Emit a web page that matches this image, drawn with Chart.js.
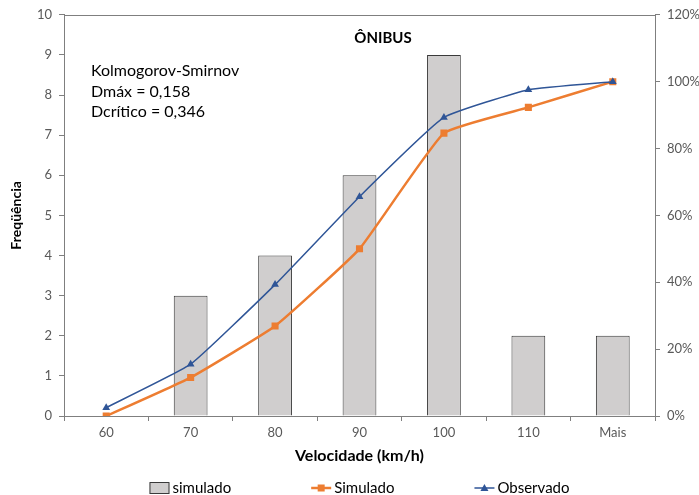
<!DOCTYPE html>
<html>
<head>
<meta charset="utf-8">
<script src="https://cdn.jsdelivr.net/npm/chart.js@4/dist/chart.umd.min.js"></script>
<style>
  html, body { margin: 0; padding: 0; background: #fff; }
  #wrap { width: 699px; height: 495px; }
</style>
</head>
<body>
<div id="wrap"><canvas id="chart" width="699" height="495"></canvas></div>
<script>
// categorias (velocidade km/h)
const categories = ['60', '70', '80', '90', '100', '110', 'Mais'];
// frequencia simulada (barras, eixo esquerdo)
const simuladoFreq = [0, 3, 4, 6, 9, 2, 2];
// acumulados em % (eixo direito)
const simuladoAcum = [0, 11.5, 26.9, 50, 84.6, 92.3, 100];
const observadoAcum = [2.5, 15.5, 39.3, 65.6, 89.3, 97.6, 100];

const leftMax = 10;
const rightMax = 120;
const titleText = 'ÔNIBUS';
const noteLines = ['Kolmogorov-Smirnov', 'Dmáx = 0,158', 'Dcrítico = 0,346'];

const FONT = 'Lato';
const tickColor = '#595959';
const axisColor = '#7f7f7f';
const orange = '#ED7D31';
const blue = '#2F5597';
const barFill = '#D0CECE';
const barBorder = '#3a3a3a';

function drawMarker(ctx, style, x, y, color) {
  ctx.fillStyle = color;
  ctx.beginPath();
  if (style === 'rect') {
    ctx.rect(x - 3.5, y - 3.5, 7, 7);
  } else {
    ctx.moveTo(x, y - 4);
    ctx.lineTo(x + 4, y + 3);
    ctx.lineTo(x - 4, y + 3);
    ctx.closePath();
  }
  ctx.fill();
}

const decor = {
  id: 'decor',
  afterDraw(chart) {
    const ctx = chart.ctx;
    const a = chart.chartArea;
    ctx.save();
    // moldura da area de plotagem
    ctx.strokeStyle = axisColor;
    ctx.lineWidth = 1;
    ctx.strokeRect(Math.round(a.left) + 0.5, Math.round(a.top) + 0.5,
      Math.round(a.right - a.left), Math.round(a.bottom - a.top));

    // titulo
    ctx.fillStyle = '#000';
    ctx.font = 'bold 15px ' + FONT;
    ctx.textAlign = 'center';
    ctx.textBaseline = 'middle';
    ctx.fillText(titleText, 383, 38);

    // texto do teste
    ctx.font = '16px ' + FONT;
    ctx.textAlign = 'left';
    noteLines.forEach((t, i) => ctx.fillText(t, 91, 71 + i * 20.5));

    // legenda
    const items = [
      { label: 'simulado', kind: 'box' },
      { label: 'Simulado', kind: 'line', color: orange, marker: 'rect', width: 2.5 },
      { label: 'Observado', kind: 'line', color: blue, marker: 'tri', width: 1.5 }
    ];
    ctx.font = '15px ' + FONT;
    const symW = 20, gapSym = 3, gapItem = 80;
    const widths = items.map(it => symW + gapSym + ctx.measureText(it.label).width);
    const total = widths.reduce((s, w) => s + w, 0) + gapItem * (items.length - 1);
    let x = (a.left + a.right) / 2 - total / 2;
    const y = 488;
    items.forEach((it, i) => {
      if (it.kind === 'box') {
        ctx.fillStyle = barFill;
        ctx.fillRect(x, y - 5, symW, 11);
        ctx.strokeStyle = barBorder;
        ctx.lineWidth = 1;
        ctx.strokeRect(x + 0.5, y - 5.5, symW - 1, 11);
      } else {
        ctx.strokeStyle = it.color;
        ctx.lineWidth = it.width;
        ctx.beginPath();
        ctx.moveTo(x, y);
        ctx.lineTo(x + symW, y);
        ctx.stroke();
        drawMarker(ctx, it.marker, x + symW / 2, y, it.color);
      }
      ctx.fillStyle = '#000';
      ctx.textAlign = 'left';
      ctx.textBaseline = 'middle';
      ctx.fillText(it.label, x + symW + gapSym, y);
      x += widths[i] + gapItem;
    });
    ctx.restore();
  }
};

new Chart(document.getElementById('chart').getContext('2d'), {
  type: 'bar',
  data: {
    labels: categories,
    datasets: [
      {
        type: 'line',
        label: 'Observado',
        data: observadoAcum,
        yAxisID: 'yRight',
        borderColor: blue,
        backgroundColor: blue,
        borderWidth: 1.5,
        pointStyle: 'triangle',
        pointRadius: 4.5,
        pointBorderWidth: 0,
        tension: 0.12,
        order: 1
      },
      {
        type: 'line',
        label: 'Simulado',
        data: simuladoAcum,
        yAxisID: 'yRight',
        borderColor: orange,
        backgroundColor: orange,
        borderWidth: 2.5,
        pointStyle: 'rect',
        pointRadius: 5,
        pointBorderWidth: 0,
        tension: 0.12,
        order: 2
      },
      {
        type: 'bar',
        label: 'simulado',
        data: simuladoFreq,
        yAxisID: 'yLeft',
        backgroundColor: barFill,
        borderColor: barBorder,
        borderWidth: 1,
        barPercentage: 0.4,
        categoryPercentage: 1,
        order: 3
      }
    ]
  },
  options: {
    responsive: false,
    animation: false,
    layout: { padding: { top: 8, left: 8, right: 0, bottom: 30 } },
    plugins: {
      legend: { display: false },
      tooltip: { enabled: false }
    },
    scales: {
      x: {
        grid: { display: true, drawOnChartArea: false, color: axisColor, tickLength: 5, offset: true },
        border: { color: axisColor },
        ticks: { color: tickColor, font: { family: FONT, size: 13 }, padding: 4 },
        title: { display: true, text: 'Velocidade (km/h)', color: '#000', font: { family: FONT, size: 16, weight: 'bold' }, padding: { top: 1, bottom: 0 } },
        afterFit(s) { s.height = 49; }
      },
      yLeft: {
        position: 'left',
        min: 0,
        max: leftMax,
        ticks: { stepSize: 1, color: tickColor, font: { family: FONT, size: 13 }, padding: 7 },
        grid: { display: true, drawOnChartArea: false, color: axisColor, tickLength: 5 },
        border: { color: axisColor },
        title: { display: true, text: 'Freqüência', color: '#000', font: { family: FONT, size: 14, weight: 'bold' }, padding: 0 },
        afterFit(s) { s.width = 56; }
      },
      yRight: {
        position: 'right',
        min: 0,
        max: rightMax,
        ticks: { stepSize: 20, color: tickColor, font: { family: FONT, size: 13 }, padding: 7, callback: v => v + '%' },
        grid: { display: true, drawOnChartArea: false, color: axisColor, tickLength: 5 },
        border: { color: axisColor },
        afterFit(s) { s.width = 44; }
      }
    }
  },
  plugins: [decor]
});
</script>
</body>
</html>
